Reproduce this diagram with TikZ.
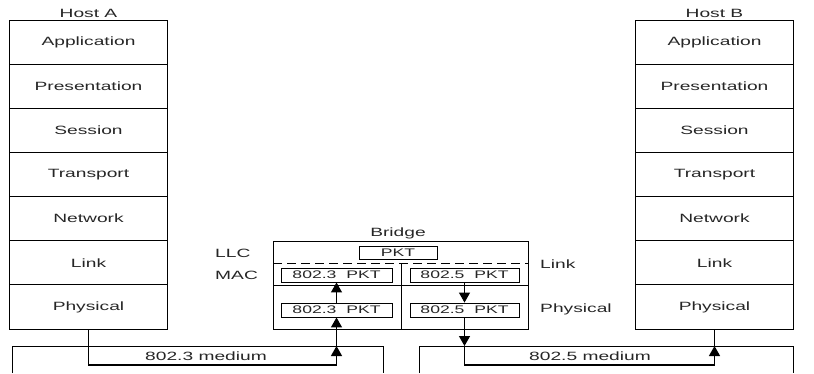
\documentclass[tikz,border=0pt]{standalone}
\usepackage{fontspec}
\setmainfont[FakeStretch=1.6]{Liberation Sans}
\usetikzlibrary{arrows.meta}
\begin{document}
\begin{tikzpicture}[x=1pt,y=-1pt,
  every node/.style={font=\fontsize{12}{14}\selectfont, inner sep=0pt, text=black!85},
  layer/.style={draw, line width=0.9pt, minimum width=158pt, minimum height=44.14pt},
  pkt/.style={draw, line width=0.9pt, minimum height=14pt, font=\fontsize{11}{13}\selectfont},
  box/.style={line width=0.9pt},
  flow/.style={line width=1.3pt},
  tip/.style={flow, -{Triangle[width=11pt,length=10pt]}}
]
\useasboundingbox (0,0) rectangle (814,373);
% Host A and Host B stacks
\foreach \n [count=\i] in {Application,Presentation,Session,Transport,Network,Link,Physical} {
  \node[layer] (a\i) at (88.5,{20+44.14*(\i-0.5)}) {\n};
  \node[layer] (b\i) at (714.5,{20+44.14*(\i-0.5)}) {\n};
}
\node (hA) at (88.5,13) {Host A};
\node (hB) at (714.5,13) {Host B};
% Bridge
\node[draw, line width=0.9pt, minimum width=255pt, minimum height=88pt] (br) at (400.5,285) {};
\node (brl) at (398,233) {Bridge};
\draw[box, dash pattern=on 9pt off 5pt] (273,263) -- (528,263);
\draw[box] (273,285) -- (528,285);
\draw[box] (401,263) -- (401,329);
\node[pkt, minimum width=78pt, minimum height=13pt] (pk) at (398,252.5) {PKT};
\node[pkt, minimum width=111pt] (l1) at (336.5,275) {802.3\ \ PKT};
\node[pkt, minimum width=111pt] (l2) at (336.5,310) {802.3\ \ PKT};
\node[pkt, minimum width=109pt] (r1) at (464.5,275) {802.5\ \ PKT};
\node[pkt, minimum width=109pt] (r2) at (464.5,310) {802.5\ \ PKT};
\node[anchor=west] (llc) at (215,253) {LLC};
\node[anchor=west] (mac) at (215,275) {MAC};
\node[anchor=west] (lk) at (540,264) {Link};
\node[anchor=west] (ph) at (540,309) {Physical};
% media
\draw[box] (12,373) -- (12,346) -- (383,346) -- (383,373);
\draw[box] (419,373) -- (419,346) -- (793,346) -- (793,373);
\node (m3) at (206,356) {802.3 medium};
\node (m5) at (590,356) {802.5 medium};
% flows
\coordinate (c1) at (88.5,365);
\coordinate (c2) at (336.5,365);
\coordinate (c3) at (336.5,346);
\coordinate (c4) at (464.5,346);
\coordinate (c5) at (464.5,365);
\coordinate (c6) at (714.5,365);
\coordinate (c7) at (714.5,346);
\draw[flow] (a7.south) -- (c1) -- (c2);
\draw[tip] (c2) -- (c3);
\draw[tip] (c3) -- (l2.south);
\draw[tip] (l2.north) -- (l1.south);
\draw[tip] (r1.south) -- (r2.north);
\draw[tip] (r2.south) -- (c4);
\draw[flow] (c4) -- (c5) -- (c6);
\draw[tip] (c6) -- (c7);
\draw[flow] (c7) -- (b7.south);
\end{tikzpicture}
\end{document}
